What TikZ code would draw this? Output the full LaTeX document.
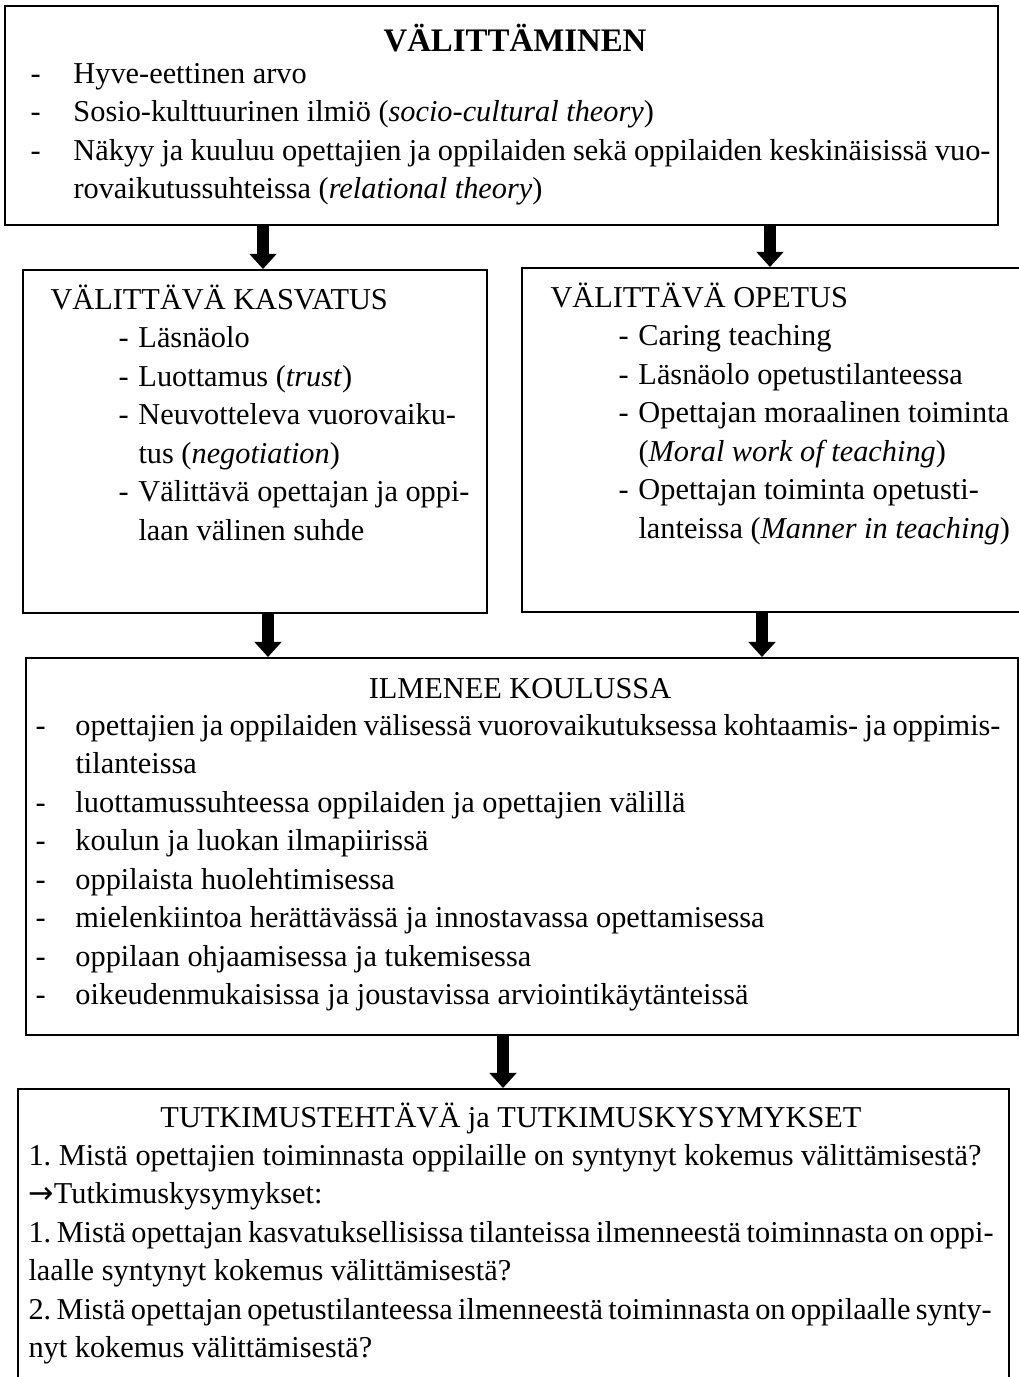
\documentclass[tikz,border=0pt]{standalone}
\usepackage{fontspec}
\setmainfont{Liberation Serif}
\newfontfamily\arrowfont{DejaVu Sans}
\usetikzlibrary{arrows.meta}
\frenchspacing
\newlength\pxu
\setlength\pxu{0.3956pt}
\newcommand\lead[1]{\makebox[#1\pxu][l]{-}}
\newcommand\cont[1]{\hspace*{#1\pxu}}
\newcommand\just[2]{\makebox[#1\pxu][s]{#2}}
\newcommand\rows[1]{\begin{tabular}[t]{@{}l@{}}#1\end{tabular}}
\tikzset{
  x=0.3956pt, y=-0.3956pt,
  box/.style={draw, line width=0.6pt, anchor=north west, inner sep=0pt},
  txt/.style={anchor=base west, inner sep=0pt,
    font=\fontsize{12pt}{15.25pt}\selectfont},
  head/.style={anchor=base, inner sep=0pt, font=\fontsize{12pt}{14pt}\selectfont},
  fat/.style={line width=4.6pt, -{Triangle[width=10.5pt,length=6pt]}}
}
\begin{document}
\begin{tikzpicture}
  \useasboundingbox (0,0) rectangle (1018,1377);
  \node[box, minimum width=993\pxu, minimum height=219\pxu] (valittaminen) at (4,5) {};
  \node[box, minimum width=464\pxu, minimum height=343\pxu] (kasvatus) at (22,269) {};
  \node[box, minimum width=510\pxu, minimum height=344\pxu] (opetus) at (521,267) {};
  \node[box, minimum width=992\pxu, minimum height=377\pxu] (ilmenee) at (25,657) {};
  \node[box, minimum width=991\pxu, minimum height=320\pxu] (tutkimus) at (17,1088) {};
  \node[head, font=\fontsize{13pt}{15pt}\selectfont\bfseries] (valtitle) at (515,51) {VÄLITTÄMINEN};
  \node[txt] (valtxt) at (30,83) {\rows{\lead{43}Hyve-eettinen arvo\\
    \lead{43}Sosio-kulttuurinen ilmiö (\textit{socio-cultural theory})\\
    \lead{43}\just{917}{Näkyy ja kuuluu opettajien ja oppilaiden sekä oppilaiden keskinäisissä vuo-}\\
    \cont{43}rovaikutussuhteissa (\textit{relational theory})}};
  \node[txt] (kasvtxt) at (50,309) {\rows{VÄLITTÄVÄ KASVATUS\\
    \cont{68}\lead{20}Läsnäolo\\
    \cont{68}\lead{20}Luottamus (\textit{trust})\\
    \cont{68}\lead{20}Neuvotteleva vuorovaiku-\\
    \cont{88}tus (\textit{negotiation})\\
    \cont{68}\lead{20}Välittävä opettajan ja oppi-\\
    \cont{88}laan välinen suhde}};
  \node[txt] (opettxt) at (550,307) {\rows{VÄLITTÄVÄ OPETUS\\
    \cont{68}\lead{20}Caring teaching\\
    \cont{68}\lead{20}Läsnäolo opetustilanteessa\\
    \cont{68}\lead{20}Opettajan moraalinen toiminta\\
    \cont{88}(\textit{Moral work of teaching})\\
    \cont{68}\lead{20}Opettajan toiminta opetusti-\\
    \cont{88}lanteissa (\textit{Manner in teaching})}};
  \node[head] (ilmtitle) at (520,698) {ILMENEE KOULUSSA};
  \node[txt] (ilmtxt) at (35,735) {\rows{\lead{40}\just{925}{opettajien ja oppilaiden välisessä vuorovaikutuksessa kohtaamis- ja oppimis-}\\
    \cont{40}tilanteissa\\
    \lead{40}luottamussuhteessa oppilaiden ja opettajien välillä\\
    \lead{40}koulun ja luokan ilmapiirissä\\
    \lead{40}oppilaista huolehtimisessa\\
    \lead{40}mielenkiintoa herättävässä ja innostavassa opettamisessa\\
    \lead{40}oppilaan ohjaamisessa ja tukemisessa\\
    \lead{40}oikeudenmukaisissa ja joustavissa arviointikäytänteissä}};
  \node[head] (tuttitle) at (511,1127) {TUTKIMUSTEHTÄVÄ ja TUTKIMUSKYSYMYKSET};
  \node[txt] (tuttxt) at (28,1165) {\rows{1. Mistä opettajien toiminnasta oppilaille on syntynyt kokemus välittämisestä?\\
    {\arrowfont →}Tutkimuskysymykset:\\
    \just{965}{1. Mistä opettajan kasvatuksellisissa tilanteissa ilmenneestä toiminnasta on oppi-}\\
    laalle syntynyt kokemus välittämisestä?\\
    \just{963}{2. Mistä opettajan opetustilanteessa ilmenneestä toiminnasta on oppilaalle synty-}\\
    nyt kokemus välittämisestä?}};
  \draw[fat] (valittaminen.south -| 263,0) -- (kasvatus.north -| 263,0);
  \draw[fat] (valittaminen.south -| 770,0) -- (opetus.north -| 770,0);
  \draw[fat] (kasvatus.south -| 268,0) -- (ilmenee.north -| 268,0);
  \draw[fat] (opetus.south -| 762,0) -- (ilmenee.north -| 762,0);
  \draw[fat] (ilmenee.south -| 503,0) -- (tutkimus.north -| 503,0);
\end{tikzpicture}
\end{document}
